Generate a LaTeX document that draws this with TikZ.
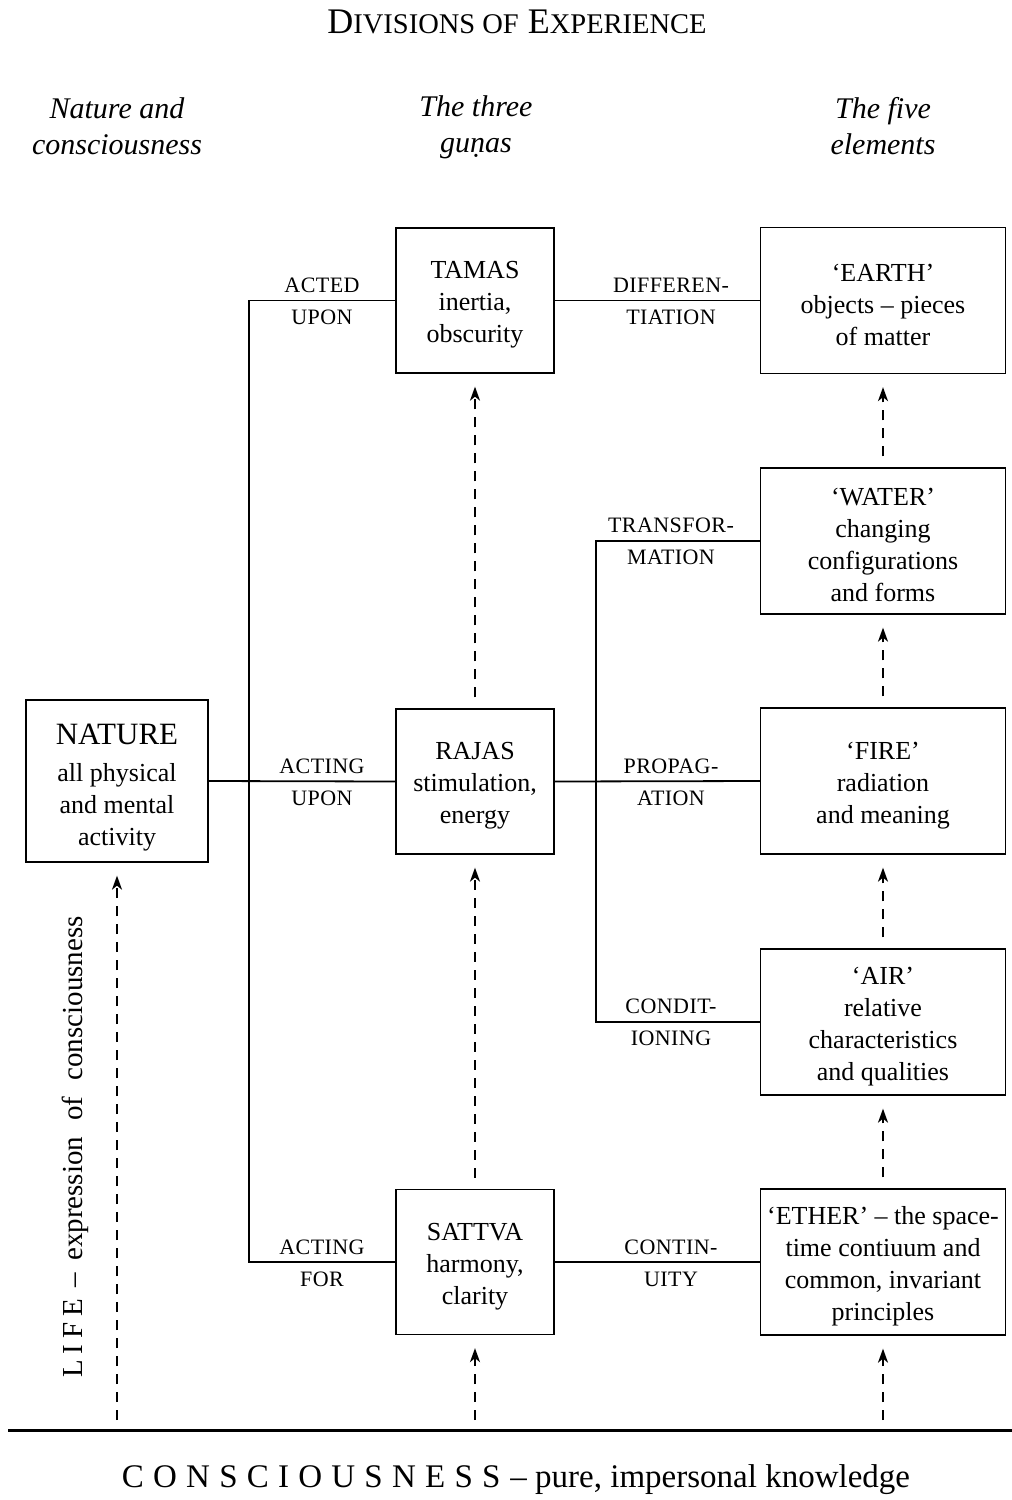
\documentclass[tikz,border=0pt]{standalone}
\usepackage{fontspec}
\setmainfont{Liberation Serif}
\usetikzlibrary{arrows.meta}
\newcommand\bxfont{\fontsize{26}{32}\selectfont}
\newcommand\lbfont{\fontsize{22}{24}\selectfont\addfontfeature{LetterSpace=2}}
\newcommand\hdfont{\fontsize{30}{36}\selectfont\itshape}
\newcommand\tstrut{\rule{0pt}{26pt}}
\tikzset{
  x=1pt, y=-1pt,
  box/.style={draw, line width=1.3pt, align=center, inner sep=0pt, font=\bxfont},
  guna/.style={box, minimum width=158pt, minimum height=145pt},
  elem/.style={box, minimum width=245pt, minimum height=146pt},
  lab/.style={font=\lbfont, inner sep=0pt},
  head/.style={font=\hdfont, align=center, inner sep=0pt},
  conn/.style={line width=1.8pt},
  up/.style={line width=1.8pt, dash pattern=on 10pt off 8pt,
    -{Stealth[length=14pt,width=10pt,inset=4pt]}}
}
\begin{document}
\begin{tikzpicture}
\useasboundingbox (0,0) rectangle (1012,1500);
% title and headings
\node[inner sep=0pt] (title) at (517,22) {\fontsize{36}{40}\selectfont D{\fontsize{28.5}{40}\selectfont IVISIONS OF} E{\fontsize{28.5}{40}\selectfont XPERIENCE}};
\node[head] (h1) at (117,126) {Nature and\\consciousness};
\node[head] (h2) at (476,127) {The three\\gu\d{n}as};
\node[head] (h3) at (883,126) {The five\\elements};
% boxes
\node[box, minimum width=182pt, minimum height=162pt] (nature) at (117,781)
  {\rule{0pt}{33pt}{\fontsize{31}{32}\selectfont NATURE}\\[5pt]all physical\\and mental\\activity};
\node[guna] (tamas) at (475,300.5) {\tstrut TAMAS\\inertia,\\obscurity};
\node[guna] (rajas) at (475,781.5) {\tstrut RAJAS\\stimulation,\\energy};
\node[guna] (sattva) at (475,1262) {\tstrut SATTVA\\harmony,\\clarity};
\node[elem] (earth) at (883,300.5) {\tstrut `EARTH'\\objects -- pieces\\of matter};
\node[elem] (water) at (883,541) {\tstrut `WATER'\\changing\\configurations\\and forms};
\node[elem] (fire) at (883,781) {\tstrut `FIRE'\\radiation\\and meaning};
\node[elem] (air) at (883,1022) {\tstrut `AIR'\\relative\\characteristics\\and qualities};
\node[elem] (ether) at (883,1262) {\tstrut `ETHER' -- the space-\\time contiuum and\\common, invariant\\principles};
% connectors
\coordinate (j1) at (249,781);
\coordinate (j2) at (596,781);
\draw[conn] (nature.east) -- (rajas.west);
\draw[conn] (tamas.west) -| (j1) |- (sattva.west);
\draw[conn] (tamas.east) -- (earth.west);
\draw[conn] (rajas.east) -- (fire.west);
\draw[conn] (water.west) -| (j2) |- (air.west);
\draw[conn] (sattva.east) -- (ether.west);
% labels
\node[lab] (l1a) at (322,285) {ACTED};
\node[lab] (l1b) at (322,317) {UPON};
\node[lab] (l2a) at (322,766) {ACTING};
\node[lab] (l2b) at (322,798) {UPON};
\node[lab] (l3a) at (322,1247) {ACTING};
\node[lab] (l3b) at (322,1279) {FOR};
\node[lab] (l4a) at (671,285) {DIFFEREN-};
\node[lab] (l4b) at (671,317) {TIATION};
\node[lab] (l5a) at (671,525) {TRANSFOR-};
\node[lab] (l5b) at (671,557) {MATION};
\node[lab] (l6a) at (671,766) {PROPAG-};
\node[lab] (l6b) at (671,798) {ATION};
\node[lab] (l7a) at (671,1006) {CONDIT-};
\node[lab] (l7b) at (671,1038) {IONING};
\node[lab] (l8a) at (671,1247) {CONTIN-};
\node[lab] (l8b) at (671,1279) {UITY};
% base line
\coordinate (baseL) at (8,1430);
\coordinate (baseR) at (1012,1430);
\draw[line width=3pt] (baseL) -- (baseR);
\coordinate (b1) at (117,1430);
\coordinate (b2) at (475,1430);
\coordinate (b3) at (883,1430);
% dashed arrows
\draw[up, shorten <=10pt, shorten >=13pt] (b1) -- (nature.south);
\draw[up, shorten <=10pt, shorten >=13pt] (b2) -- (sattva.south);
\draw[up, shorten <=11pt, shorten >=13pt] (sattva.north) -- (rajas.south);
\draw[up, shorten <=11pt, shorten >=13pt] (rajas.north) -- (tamas.south);
\draw[up, shorten <=10pt, shorten >=13pt] (b3) -- (ether.south);
\draw[up, shorten <=11pt, shorten >=13pt] (ether.north) -- (air.south);
\draw[up, shorten <=11pt, shorten >=13pt] (air.north) -- (fire.south);
\draw[up, shorten <=11pt, shorten >=13pt] (fire.north) -- (water.south);
\draw[up, shorten <=11pt, shorten >=13pt] (water.north) -- (earth.south);
% life and consciousness
\node[rotate=90, inner sep=0pt, font=\fontsize{29}{32}\selectfont] (life) at (75,1147)
  {{\addfontfeature{LetterSpace=20}LIFE}\hspace{12pt}--\hspace{12pt}expression\hspace{16pt}of\hspace{16pt}consciousness};
\node[inner sep=0pt, font=\fontsize{33}{36}\selectfont] (cons) at (516,1480)
  {{\addfontfeature{LetterSpace=28}CONSCIOUSNESS}\hspace{10pt}-- pure, impersonal knowledge};
\end{tikzpicture}
\end{document}
